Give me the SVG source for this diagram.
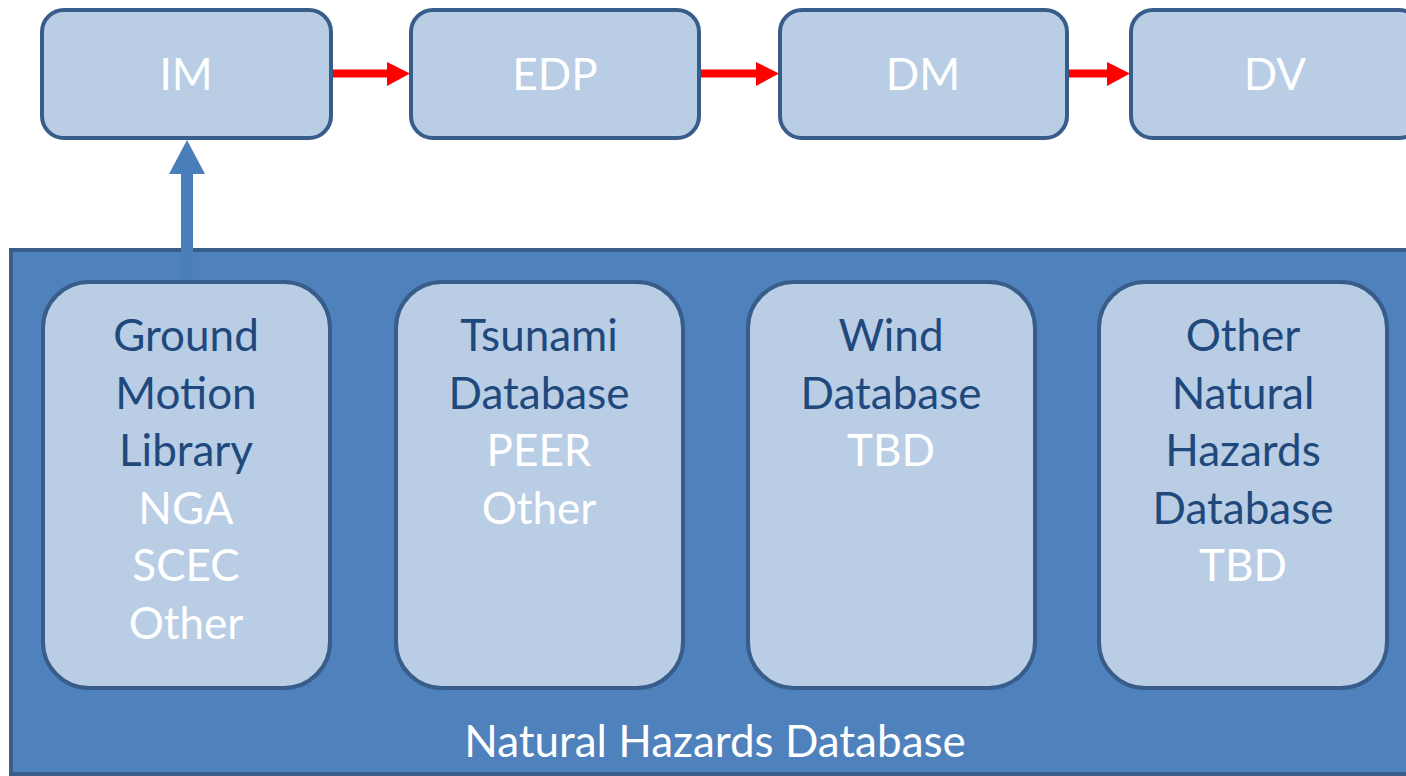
<svg xmlns="http://www.w3.org/2000/svg" width="1406" height="776" viewBox="0 0 1406 776">
<defs>
<style>
.top{fill:#b9cde5;stroke:#385d8a;stroke-width:4}
.inner{fill:#b9cde5;stroke:#385d8a;stroke-width:4}
.big{fill:#4f81bd;stroke:#385d8a;stroke-width:4}
text{font-family:Lato,"Liberation Sans",sans-serif;font-size:44px;text-anchor:middle}
.w{fill:#ffffff}
.d{fill:#1f497d}
.red{stroke:#ff0000;stroke-width:8;fill:none}
</style>
</defs>
<rect width="1406" height="776" fill="#ffffff"/>
<g id="natural-hazards-database">
<rect class="big" x="11" y="250" width="1420" height="524"/>
<text class="w" x="715" y="757">Natural Hazards Database</text>
</g>
<g id="im"><rect class="top" x="42" y="10" width="289" height="128" rx="22"/><text class="w" x="186" y="90">IM</text></g>
<g id="edp"><rect class="top" x="411" y="10" width="288" height="128" rx="22"/><text class="w" x="555" y="90">EDP</text></g>
<g id="dm"><rect class="top" x="780" y="10" width="287" height="128" rx="22"/><text class="w" x="923" y="90">DM</text></g>
<g id="dv"><rect class="top" x="1131" y="10" width="290" height="128" rx="22"/><text class="w" x="1275" y="90">DV</text></g>
<g id="connectors">
<line class="red" x1="333" y1="73.5" x2="389" y2="73.5"/>
<polygon fill="#ff0000" points="387,62 410,73.5 387,86"/>
<line class="red" x1="701" y1="73.5" x2="758" y2="73.5"/>
<polygon fill="#ff0000" points="756,62 779,73.5 756,86"/>
<line class="red" x1="1069" y1="73.5" x2="1109" y2="73.5"/>
<polygon fill="#ff0000" points="1107,62 1130,73.5 1107,86"/>
<rect x="181" y="172" width="12" height="108" fill="#4a7ebb"/>
<polygon fill="#4a7ebb" points="169,174 187,140 205,174"/>
</g>
<g id="ground-motion-library">
<rect class="inner" x="43" y="282" width="287" height="406" rx="46"/>
<text class="d" x="186" y="351">Ground</text>
<text class="d" x="186" y="409">Motion</text>
<text class="d" x="186" y="466">Library</text>
<text class="w" x="186" y="524">NGA</text>
<text class="w" x="186" y="581">SCEC</text>
<text class="w" x="186" y="639">Other</text>
</g>
<g id="tsunami-database">
<rect class="inner" x="396" y="282" width="287" height="406" rx="46"/>
<text class="d" x="539" y="351">Tsunami</text>
<text class="d" x="539" y="409">Database</text>
<text class="w" x="539" y="466">PEER</text>
<text class="w" x="539" y="524">Other</text>
</g>
<g id="wind-database">
<rect class="inner" x="748" y="282" width="287" height="406" rx="46"/>
<text class="d" x="891" y="351">Wind</text>
<text class="d" x="891" y="409">Database</text>
<text class="w" x="891" y="466">TBD</text>
</g>
<g id="other-natural-hazards-database">
<rect class="inner" x="1099" y="282" width="288" height="406" rx="46"/>
<text class="d" x="1243" y="351">Other</text>
<text class="d" x="1243" y="409">Natural</text>
<text class="d" x="1243" y="466">Hazards</text>
<text class="d" x="1243" y="524">Database</text>
<text class="w" x="1243" y="581">TBD</text>
</g>
</svg>
